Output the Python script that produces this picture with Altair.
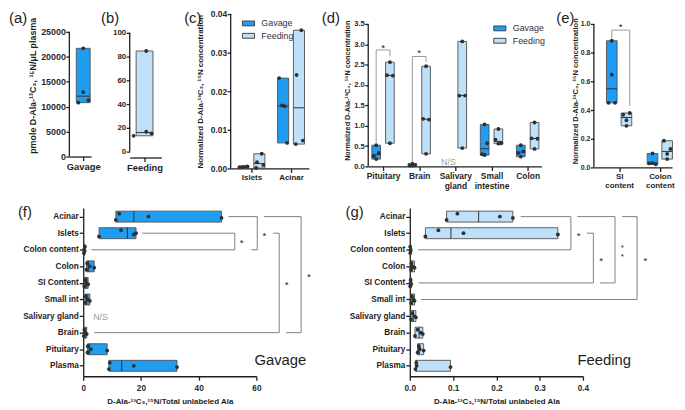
import json
import altair as alt
import numpy as np
import pandas as pd

FONT = "Liberation Sans"
GAV = "#1E9DF2"
FED = "#BEE0F8"
EDGE = "#505050"
DOT = "#303030"
BRK_LIGHT = "#9a9a9a"
BRK = "#808080"
INK = "#1e1e1e"
GROUPS = ["Gavage", "Feeding"]

# ---------------- data ----------------
a_gavage = [21700, 12900, 10800, 11300]
b_feeding = [84.7, 13.3, 16.7, 15.3]

c_cats = ["Islets", "Acinar"]
c_gavage = [[0.0003, 0.0004, 0.0004, 0.0005], [0.0234, 0.0163, 0.0161, 0.0066]]
c_feeding = [[0.0038, 0.0016, 0.0009, 0.0001], [0.0358, 0.0242, 0.0072, 0.0063]]

d_cats = ["Pituitary", "Brain", "Salivary gland", "Small intestine", "Colon"]
d_gavage = [[0.52, 0.33, 0.25, 0.18], [0.07, 0.03, 0.02, 0.02], [],
            [1.03, 0.57, 0.30, 0.28], [0.52, 0.37, 0.33, 0.24]]
d_feeding = [[2.56, 2.24, 2.23, 0.57], [2.46, 1.17, 1.15, 0.31], [3.07, 1.74, 1.74, 0.45],
             [0.92, 0.66, 0.57, 0.56], [1.08, 0.69, 0.68, 0.43]]

e_cats = ["SI content", "Colon content"]
e_gavage = [[0.883, 0.646, 0.45, 0.45], [0.097, 0.030, 0.028, 0.022]]
e_feeding = [[0.367, 0.379, 0.329, 0.290], [0.186, 0.129, 0.094, 0.058]]

fg_cats = ["Acinar", "Islets", "Colon content", "Colon", "SI Content", "Small int",
           "Salivary gland", "Brain", "Pituitary", "Plasma"]
f_gavage = [[11.3, 12.5, 22.6, 47.9], [5.5, 13.1, 18.3, 17.5], [0.2, 0.6, 0.3, 0.5],
            [1.1, 1.4, 2.2, 3.8], [0.4, 0.8, 1.1, 1.7], [0.6, 0.9, 1.5, 2.3], [],
            [0.2, 0.4, 0.6, 1.2], [1.5, 1.6, 2.6, 8.3], [8.9, 9.2, 17.5, 32.5]]
g_feeding = [[0.085, 0.110, 0.208, 0.238], [0.036, 0.066, 0.124, 0.342], [0.001, 0.001, 0.002, 0.002],
             [0.003, 0.004, 0.006, 0.011], [0.001, 0.002, 0.002, 0.003], [0.003, 0.005, 0.008, 0.011],
             [0.003, 0.006, 0.010, 0.014], [0.012, 0.018, 0.025, 0.030], [0.018, 0.021, 0.023, 0.032],
             [0.013, 0.015, 0.016, 0.094]]

# significance annotations (bracket segments in data units, star labels)
d_segs = [(-0.19, 0.58, -0.19, 2.86), (-0.19, 2.86, 0.19, 2.86), (0.19, 2.86, 0.19, 2.70),
          (0.81, 0.10, 0.81, 2.70), (0.81, 2.70, 1.19, 2.70), (1.19, 2.70, 1.19, 2.56)]
d_stars = [(0.0, 2.98, "*", 10), (1.0, 2.84, "*", 10)]
e_segs = [(-0.18, 0.90, -0.18, 0.957), (-0.18, 0.957, 0.26, 0.957), (0.26, 0.957, 0.26, 0.43)]
e_stars = [(0.04, 0.995, "*", 10)]
f_segs = [(20.5, 1, 52.5, 1), (52.5, 1, 52.5, 2), (52.5, 2, 2.8, 2),
          (50.3, 0, 60.3, 0), (60.3, 0, 60.3, 2), (60.3, 2, 58.2, 2),
          (65.8, 1, 67.9, 1), (67.9, 1, 67.9, 7), (67.9, 7, 3.8, 7),
          (62.6, 0, 75.5, 0), (75.5, 0, 75.5, 7), (75.5, 7, 70.3, 7)]
f_stars = [(54.9, 1.45, "*", 10), (62.8, 1.0, "*", 10), (70.5, 4.0, "*", 10), (78.2, 3.5, "*", 10)]
g_segs = [(0.256, 0, 0.372, 0), (0.372, 0, 0.372, 2), (0.372, 2, 0.019, 2),
          (0.409, 1, 0.424, 1), (0.424, 1, 0.424, 4), (0.424, 4, 0.020, 4),
          (0.387, 0, 0.474, 0), (0.474, 0, 0.474, 4), (0.474, 4, 0.439, 4),
          (0.490, 0, 0.525, 0), (0.525, 0, 0.525, 5), (0.525, 5, 0.026, 5)]
g_stars = [(0.39, 1.0, "*", 10), (0.442, 2.5, "*", 10), (0.491, 1.74, "*", 8), (0.491, 2.26, "*", 8),
           (0.544, 2.5, "*", 10)]

# ---------------- style / layout constants ----------------
JIT_V = {"a": [[0.0, 0.0, -0.35, 0.38]], "b": [[0.1, -0.65, 0.1, 0.42]],
         "c": [[-0.1, -0.03, 0.04, 0.1], [0.06, -0.06, 0.1, -0.08]],
         "d": [[0.0, 0.07, -0.07, 0.0], [0.0, -0.08, 0.08, 0.0]],
         "e": [[0.0, 0.0, -0.08, 0.08], [-0.08, 0.08, 0.0, 0.0]]}
JIT_H = [0.2, -0.18, 0.0, 0.08]
HB = 0.33

ONE = pd.DataFrame({"k": [0]})


def anchor(d):
    L, T, W, H, R, B = d
    return alt.Chart(ONE).mark_rect(opacity=0).encode(
        x=alt.value(-L), x2=alt.value(W + R), y=alt.value(-T), y2=alt.value(H + B))


def spacer():
    return alt.Chart(ONE).mark_rect(opacity=0).encode(
        x=alt.value(0), x2=alt.value(1), y=alt.value(0), y2=alt.value(1)).properties(width=1, height=1)


def tag(txt, xy):
    return alt.Chart(ONE).mark_text(align="left", baseline="top", fontSize=15, font=FONT,
                                    color=INK).encode(x=alt.value(xy[0]), y=alt.value(xy[1]),
                                                      text=alt.value(txt))


def star_layer(stars, X, Y):
    tdf = pd.DataFrame(stars, columns=["tx", "ty", "t", "fs"])
    return alt.Chart(tdf).mark_text(color=INK, dy=2.5).encode(
        x=X("tx"), y=Y("ty"), text="t:N", size=alt.Size("fs:Q", scale=None, legend=None))


def vpanel(groups, positions, offsets, hw, jit, dims, xdom, xlabels, xlab_fs, ydom, yline, yticks, yfmt,
           ylab_fs, ytitle, yt_fs, yt_pad, tag_txt, tag_xy, legend=None, segs=None, stars=None,
           notes=None, brk_color=BRK_LIGHT):
    L, T, W, H, R, B = dims
    rows, pts = [], []
    for gi, (grp, vl) in enumerate(groups):
        for ci, vals in enumerate(vl):
            if not vals:
                continue
            p = positions[ci] + offsets[gi]
            rows.append(dict(grp=grp, x0=p - hw, x1=p + hw, lo=min(vals), hi=max(vals),
                             med=float(np.median(vals))))
            for v, j in zip(vals, jit[gi]):
                pts.append(dict(xp=p + j, v=v))
    boxes = pd.DataFrame(rows)
    points = pd.DataFrame(pts)
    xs = alt.Scale(domain=xdom, nice=False, zero=False)
    ys = alt.Scale(domain=ydom, nice=False, zero=False)
    xa = alt.Axis(values=positions, labelExpr=json.dumps(xlabels) + "[datum.value]", title=None,
                  labelFontSize=xlab_fs, labelLineHeight=xlab_fs + 1.5, labelPadding=1,
                  labelFlush=False, labelOverlap=False, labelColor=INK)
    ya = alt.Axis(values=yticks, format=yfmt, title=ytitle, titleFontSize=yt_fs, titlePadding=yt_pad,
                  labelFontSize=ylab_fs, labelFlush=False, labelOverlap=False, domain=False,
                  tickSize=3.5, labelPadding=0.5)

    def X(f):
        return alt.X(f, type="quantitative", scale=xs, axis=xa)

    def Y(f):
        return alt.Y(f, type="quantitative", scale=ys, axis=ya)

    fill = alt.Fill("grp:N", scale=alt.Scale(domain=GROUPS, range=[GAV, FED]), legend=legend)
    ldf = pd.DataFrame({"l": [yline[0]], "h": [yline[1]]})
    layers = [anchor(dims),
              alt.Chart(ldf).mark_rule(color=INK, strokeWidth=1.3).encode(
                  x=alt.value(0), y=Y("l"), y2="h"),
              alt.Chart(boxes).mark_rect(stroke=EDGE, strokeWidth=0.9).encode(
                  x=X("x0"), x2="x1", y=Y("lo"), y2="hi", fill=fill),
              alt.Chart(boxes).mark_rule(color="#333333", strokeWidth=1).encode(
                  x=X("x0"), x2="x1", y=Y("med")),
              alt.Chart(points).mark_circle(size=15, color=DOT, opacity=1).encode(
                  x=X("xp"), y=Y("v"))]
    if segs:
        sdf = pd.DataFrame(segs, columns=["sx", "sy", "sx2", "sy2"])
        layers.append(alt.Chart(sdf).mark_rule(color=brk_color, strokeWidth=1).encode(
            x=X("sx"), x2="sx2", y=Y("sy"), y2="sy2"))
    if stars:
        layers.append(star_layer(stars, X, Y))
    if notes:
        ndf = pd.DataFrame(notes, columns=["tx", "ty", "t"])
        layers.append(alt.Chart(ndf).mark_text(fontSize=9, color="#9c9c9c").encode(
            x=X("tx"), y=Y("ty"), text="t:N"))
    layers.append(tag(tag_txt, tag_xy))
    return alt.layer(*layers).properties(width=W, height=H)


def hpanel(vals, color, dims, xdom, xticks, xfmt, tag_txt, tag_xy, segs, stars, notes, big):
    L, T, W, H, R, B = dims
    rows, pts = [], []
    for i, v in enumerate(vals):
        if not v:
            continue
        rows.append(dict(y0=i - HB, y1=i + HB, lo=min(v), hi=max(v), med=float(np.median(v))))
        for val, j in zip(v, JIT_H):
            pts.append(dict(yp=i + j, v=val))
    boxes = pd.DataFrame(rows)
    points = pd.DataFrame(pts)
    xs = alt.Scale(domain=xdom, nice=False, zero=False)
    ys = alt.Scale(domain=[-0.52, 9.63], reverse=True, nice=False, zero=False)
    xa = alt.Axis(values=xticks, format=xfmt, title="D-Ala-¹³C₃,¹⁵N/Total unlabeled Ala",
                  titleFontSize=8, titlePadding=6, labelFontSize=8.3, labelFlush=False,
                  labelOverlap=False, labelPadding=3)
    ya = alt.Axis(values=list(range(10)), labelExpr=json.dumps(fg_cats) + "[datum.value]",
                  title=None, labelFontSize=8.3, labelColor=INK, labelFlush=False,
                  labelOverlap=False, labelPadding=1)

    def X(f):
        return alt.X(f, type="quantitative", scale=xs, axis=xa)

    def Y(f):
        return alt.Y(f, type="quantitative", scale=ys, axis=ya)

    sdf = pd.DataFrame(segs, columns=["sx", "sy", "sx2", "sy2"])
    layers = [anchor(dims),
              alt.Chart(boxes).mark_rect(fill=color, stroke=EDGE, strokeWidth=0.9).encode(
                  x=X("lo"), x2="hi", y=Y("y0"), y2="y1"),
              alt.Chart(boxes).mark_rule(color="#333333", strokeWidth=1).encode(
                  x=X("med"), y=Y("y0"), y2="y1"),
              alt.Chart(points).mark_circle(size=15, color=DOT, opacity=1).encode(
                  x=X("v"), y=Y("yp")),
              alt.Chart(sdf).mark_rule(color=BRK, strokeWidth=1).encode(
                  x=X("sx"), x2="sx2", y=Y("sy"), y2="sy2"),
              star_layer(stars, X, Y)]
    if notes:
        ndf = pd.DataFrame(notes, columns=["tx", "ty", "t"])
        layers.append(alt.Chart(ndf).mark_text(fontSize=9, color="#9c9c9c").encode(
            x=X("tx"), y=Y("ty"), text="t:N"))
    bdf = pd.DataFrame([big], columns=["tx", "ty", "t"])
    layers.append(alt.Chart(bdf).mark_text(fontSize=15, color=INK).encode(
        x=X("tx"), y=Y("ty"), text="t:N"))
    layers.append(tag(tag_txt, tag_xy))
    return alt.layer(*layers).properties(width=W, height=H)


def legend_at(lx, ly):
    return alt.Legend(title=None, orient="none", legendX=lx, legendY=ly,
                      symbolType="M-1,-0.4H1V0.4H-1Z", symbolSize=150, symbolStrokeColor="#444444",
                      symbolStrokeWidth=1, symbolOpacity=1, labelFontSize=9, labelFont=FONT,
                      labelFontWeight="normal", labelColor="#333333", labelOffset=6, rowPadding=0.5,
                      padding=0)


NORM = "Normalized D-Ala-¹³C₃, ¹⁵N concentration"

pa = vpanel([("Gavage", [a_gavage])], [0], [0], 0.5, JIT_V["a"], (61, 3, 22, 144, 10, 37),
            [-1.0, 0.57], ["Gavage"], 9.5, [0, 28571], (0, 25000),
            [0, 5000, 10000, 15000, 20000, 25000], "d",
            9, "pmole D-Ala-¹³C₃, ¹⁵N/μL plasma", 9, 3.5, "(a)", (-61, -3))
pb = vpanel([("Feeding", [b_feeding])], [0], [0], 0.5, JIT_V["b"], (29, 3, 32, 145, 9, 36),
            [-0.88, 1.0], ["Feeding"], 9.5, [-5, 115.83], (0, 100), [0, 20, 40, 60, 80, 100], "d",
            8, None, 8, 4, "(b)", (-29, -3))
pc = vpanel([("Gavage", c_gavage), ("Feeding", c_feeding)], [0, 1], [-0.2, 0.2], 0.14, JIT_V["c"],
            (61, 3, 79, 156, 8, 25), [-0.525, 1.45], c_cats, 8, [0, 0.04], (0, 0.04),
            [0, 0.01, 0.02, 0.03, 0.04], ".2f", 8.5, NORM, 8, 6, "(c)", (-47, -3),
            legend=legend_at(11, 2.5))
pd_ = vpanel([("Gavage", d_gavage), ("Feeding", d_feeding)], [0, 1, 2, 3, 4], [-0.19, 0.19], 0.12,
             JIT_V["d"], (52, 3, 175, 154, 6, 27), [-0.41, 4.38],
             ["Pituitary", "Brain", ["Salivary", "gland"], ["Small", "intestine"], "Colon"], 8.5,
             [0, 3.743], (0, 3.5), [0, 0.5, 1, 1.5, 2, 2.5, 3, 3.5], ".1f", 7.7, NORM, 7.3, 2.5,
             "(d)", (-47, -3), legend=legend_at(126, 7.5), segs=d_segs, stars=d_stars,
             notes=[(1.81, 0.12, "N/S")])
pe = vpanel([("Gavage", e_gavage), ("Feeding", e_feeding)], [0, 1], [-0.18, 0.18], 0.13, JIT_V["e"],
            (47, 3, 79, 155, 5, 26), [-0.62, 1.30], [["SI", "content"], ["Colon", "content"]], 8,
            [0, 1.069], (0, 1.0), [0, 0.2, 0.4, 0.6, 0.8, 1.0], ".1f", 7, NORM, 7.6, 0.5,
            "(e)", (-38, -3), segs=e_segs, stars=e_stars)

pf = hpanel(f_gavage, GAV, (75, 15, 175, 170, 81, 30), [0, 60], [0, 20, 40, 60], "d", "(f)", (-66, -3),
            f_segs, f_stars, [(6.0, 6.05, "N/S")], (68.3, 8.65, "Gavage"))
pg = hpanel(g_feeding, FED, (74, 15, 175, 170, 95, 30), [0, 0.4], [0, 0.1, 0.2, 0.3, 0.4], ".1f",
            "(g)", (-65, -3), g_segs, g_stars, None, (0.449, 8.65, "Feeding"))

top = alt.hconcat(spacer(), pa, pb, pc, pd_, pe, spacing=0).resolve_scale(
    fill="independent").resolve_legend(fill="independent")
bottom = alt.hconcat(spacer(), pf, pg, spacing=0)

chart = alt.vconcat(top, bottom, spacing=0).properties(padding=0).configure(font=FONT).configure_view(
    stroke=None).configure_axis(
    grid=False, domainColor=INK, domainWidth=1.3, tickColor=INK, tickWidth=1.3, tickSize=4,
    labelFont=FONT, labelFontWeight="bold", labelColor="#2a2a2a", titleFont=FONT,
    titleFontWeight="bold", titleColor=INK)

chart.save("out.html", embed_options={"renderer": "svg", "actions": False})
